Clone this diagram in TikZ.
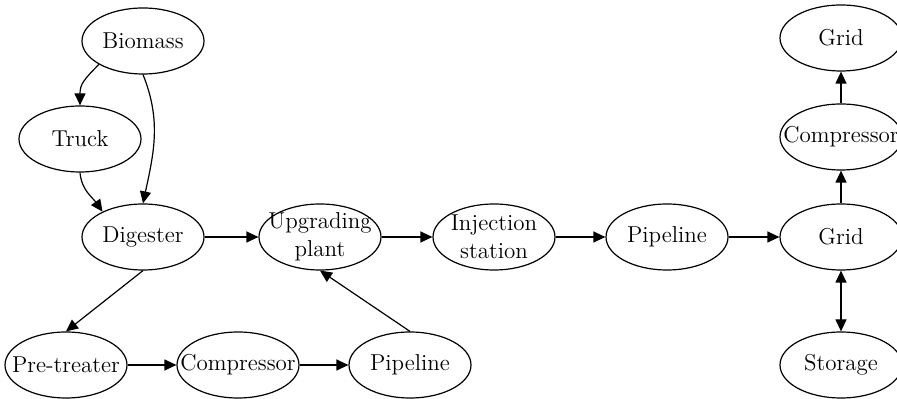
\documentclass[tikz,border=0pt]{standalone}
\usepackage{tikz}
\usetikzlibrary{arrows.meta,shapes.geometric}

\begin{document}
\begin{tikzpicture}[x=0.5pt,y=0.5pt,
    blob/.style={draw,ellipse,line width=0.6pt,minimum width=61pt,minimum height=33pt,
      inner xsep=-8pt,inner ysep=-2pt,align=center,font=\fontsize{11.5}{14}\selectfont},
    flow/.style={-{Triangle[length=6pt,width=5.5pt]},line width=0.6pt}]
        \useasboundingbox (0,0) rectangle (897,-399);
        % feed side
        \node[blob] (bio) at (143,-41) {Biomass};
        \node[blob] (truck) at (80,-139) {Truck};
        \node[blob] (dig) at (143,-237) {Digester};
        \node[blob] (upg) at (320,-237) {Upgrading\\plant};
        \node[blob] (inj) at (494,-237) {Injection\\station};
        \node[blob] (pipe) at (667,-237) {Pipeline};
        % grid column
        \node[blob] (grid) at (841,-237) {Grid};
        \node[blob] (comp) at (841,-137) {Compressor};
        \node[blob] (gridtop) at (841,-38) {Grid};
        \node[blob] (store) at (841,-365) {Storage};
        % bottom row
        \node[blob] (pre) at (66,-365) {Pre-treater};
        \node[blob] (comp2) at (238,-365) {Compressor};
        \node[blob] (pipe2) at (410,-365) {Pipeline};
        \draw[flow] (bio.208) to[out=225,in=90,looseness=1.2] (truck);
        \draw[flow] (bio.south) to[out=-68,in=78] (dig.north);
        \draw[flow] (truck.south) to[out=-85,in=125] (dig.148);
        \foreach \a/\b in {dig/upg,upg/inj,inj/pipe,pipe/grid,pre/comp2,comp2/pipe2,grid/comp,comp/gridtop}
          \draw[flow] (\a) -- (\b);
        \draw[flow] (dig.south) -- (pre.north);
        \draw[flow] (pipe2.north) -- (upg.south);
        \draw[{Triangle[length=6pt,width=5.5pt]}-{Triangle[length=6pt,width=5.5pt]},line width=0.6pt] (grid) -- (store);
      \end{tikzpicture}
\end{document}
